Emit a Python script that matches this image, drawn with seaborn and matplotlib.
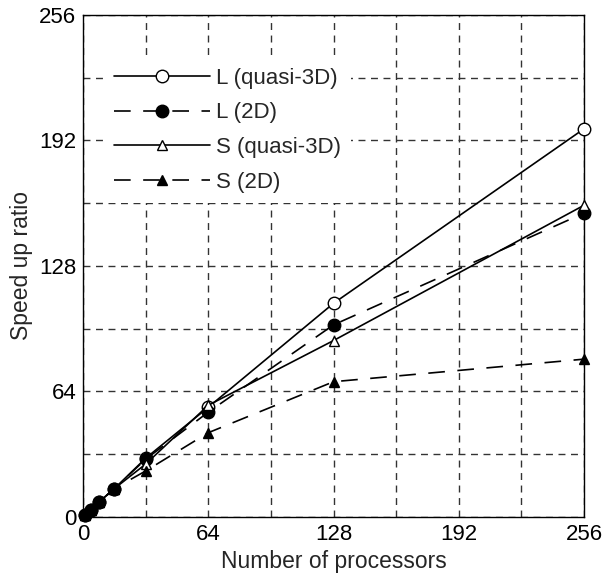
import matplotlib
matplotlib.use("Agg")
import matplotlib.pyplot as plt
import seaborn as sns
import pandas as pd

sns.set_style("white")
plt.rcParams['font.family'] = ['Liberation Sans', 'DejaVu Sans']

processors = [1, 4, 8, 16, 32, 64, 128, 256]
L_quasi3d = [1, 3.8, 7.5, 14.5, 30, 56, 109, 198]
L_2d = [1, 3.8, 7.5, 14.5, 29.5, 53.5, 98, 155]
S_quasi3d = [1, 3.8, 7.5, 14.5, 27, 57, 90, 159]
S_2d = [1, 3.8, 7.5, 14.5, 23.5, 43, 69, 80.5]

labels = ["L (quasi-3D)", "L (2D)", "S (quasi-3D)", "S (2D)"]
series = [L_quasi3d, L_2d, S_quasi3d, S_2d]
styles = [
    dict(marker="o", markerfacecolor="white", markersize=9, linestyle="-"),
    dict(marker="o", markerfacecolor="black", markersize=9, linestyle=(0, (10, 7.5))),
    dict(marker="^", markerfacecolor="white", markersize=7.5, linestyle="-"),
    dict(marker="^", markerfacecolor="black", markersize=7.5, linestyle=(0, (10, 7.5))),
]

fig = plt.figure(figsize=(6.11, 5.77), dpi=100)
ax = fig.add_axes([0.136, 0.104, 0.82, 0.87])

for lab, vals, st in zip(labels, series, styles):
    df = pd.DataFrame({"x": processors, "y": vals})
    sns.lineplot(data=df, x="x", y="y", ax=ax, color="black", linewidth=1.2,
                 markeredgecolor="black", markeredgewidth=1.0, label=lab,
                 clip_on=False, zorder=3, **st)

ax.set_xlim(0, 256)
ax.set_ylim(0, 256)
ticks = [0, 64, 128, 192, 256]
ax.set_xticks(ticks)
ax.set_yticks(ticks)
ax.set_xticks([32, 96, 160, 224], minor=True)
ax.set_yticks([32, 96, 160, 224], minor=True)
ax.grid(True, which="both", color="#333333", linestyle=(0, (5, 4)), linewidth=1.0)
ax.set_axisbelow(True)
ax.tick_params(axis="both", which="both", length=0, labelsize=16, pad=5, colors="black")
for s in ax.spines.values():
    s.set_color("black")
    s.set_linewidth(1.0)

ax.set_xlabel("Number of processors", fontsize=16.5, labelpad=4)
ax.set_ylabel("Speed up ratio", fontsize=16.5, labelpad=4)

leg = ax.legend(loc="upper left", bbox_to_anchor=(0.042, 0.915), frameon=True,
                fontsize=16, handlelength=4.3, handletextpad=0.3,
                labelspacing=0.62, borderpad=0.45, borderaxespad=0)
leg.get_frame().set_facecolor("white")
leg.get_frame().set_edgecolor("none")
leg.get_frame().set_alpha(1.0)
leg.set_zorder(5)

fig.savefig("out.png", dpi=100)
